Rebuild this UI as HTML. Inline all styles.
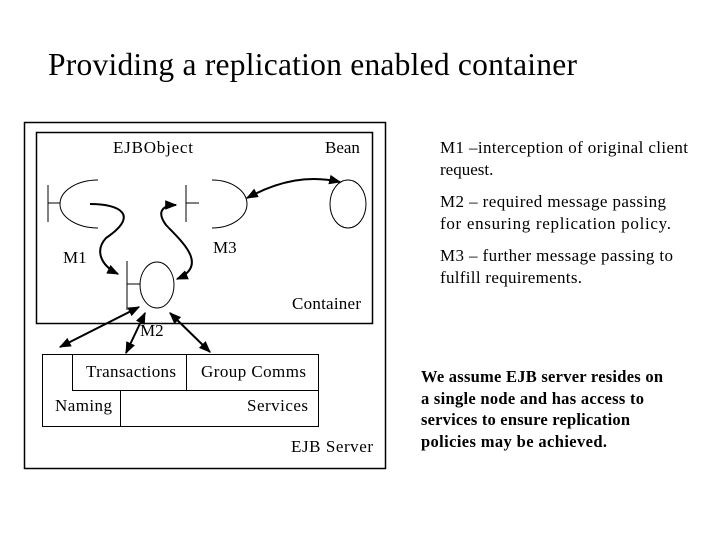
<!DOCTYPE html>
<html><head><style>body{margin:0;background:#fff}svg{display:block}</style></head><body>
<svg width="720" height="540" viewBox="0 0 720 540" font-family="Liberation Serif, serif" fill="none" stroke="#000">
<defs><marker id="a" viewBox="0 0 10 10" refX="9" refY="5" markerWidth="6" markerHeight="6" orient="auto-start-reverse"><path d="M0,1L10,5L0,9z" fill="#000" stroke="none"/></marker></defs>
<text x="48" y="75" font-size="31.5" fill="#000" stroke="none" textLength="529">Providing a replication enabled container</text>
<rect x="24.5" y="122.5" width="361" height="346" stroke-width="1.5"/>
<rect x="36.5" y="132.5" width="336" height="191" stroke-width="1.5"/>
<g fill="#000" stroke="none" font-size="17">
<text x="113" y="153" textLength="80">EJBObject</text><text x="325" y="153">Bean</text>
<text x="63" y="263">M1</text><text x="213" y="253">M3</text>
<text x="292" y="309" textLength="69">Container</text><text x="140" y="336">M2</text>
<text x="86" y="377" textLength="90">Transactions</text><text x="201" y="377" textLength="105">Group Comms</text>
<text x="55" y="411" textLength="57">Naming</text><text x="247" y="411" textLength="61">Services</text>
<text x="291" y="452" textLength="82">EJB Server</text>
<text x="440" y="153" textLength="248">M1 –interception of original client</text><text x="440" y="175">request.</text>
<text x="440" y="207" textLength="226">M2 – required message passing</text><text x="440" y="229" textLength="231">for ensuring replication policy.</text>
<text x="440" y="261" textLength="233">M3 – further message passing to</text><text x="440" y="283" textLength="142">fulfill requirements.</text>
</g>
<g fill="#000" stroke="none" font-size="16.5" font-weight="bold">
<text x="421" y="382" textLength="242">We assume EJB server resides on</text>
<text x="421" y="404" textLength="223">a single node and has access to</text>
<text x="421" y="425" textLength="209">services to ensure replication</text>
<text x="421" y="447" textLength="186">policies may be achieved.</text>
</g>
<g stroke-width="1">
<path d="M48,185V222M48,203H60"/><path d="M98,180A38,24 0 0 0 98,228"/>
<path d="M186,185V222M186,203H199"/><path d="M212,180A35,24 0 0 1 212,228"/>
<ellipse cx="348" cy="204" rx="18" ry="24"/>
<ellipse cx="157" cy="285" rx="17" ry="23"/>
<path d="M127,261V310M127,284H140"/>
<path d="M42.5,354.5H318.5V426.5H42.5Z M72.5,354.5V390.5H318.5 M186.5,354.5V390.5 M120.5,390.5V426.5"/>
</g>
<g stroke-width="2" marker-end="url(#a)">
<path d="M90,204C120,204 140,215 106,238C95,250 100,265 118,274"/>
<path d="M177,279C210,265 180,240 166,225C155,210 165,205 176,205" marker-start="url(#a)"/>
<path d="M247,198C280,180 310,175 340,182" marker-start="url(#a)"/>
<path d="M60,347L139,307" marker-start="url(#a)"/>
<path d="M126,353L145,313" marker-start="url(#a)"/>
<path d="M210,352L170,313" marker-start="url(#a)"/>
</g>
</svg>
</body></html>
